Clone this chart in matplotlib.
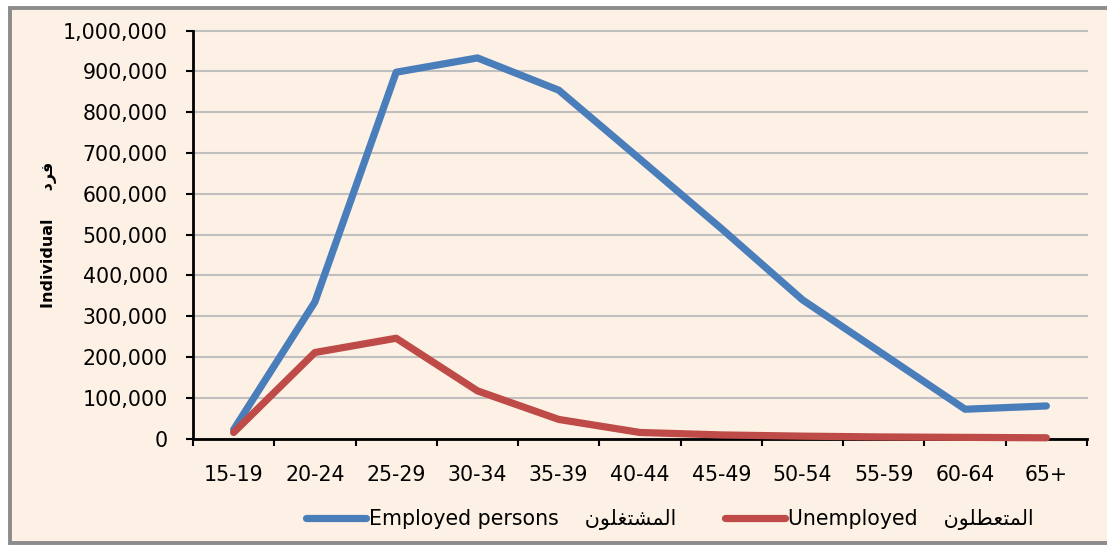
import matplotlib
matplotlib.use("Agg")
import matplotlib.pyplot as plt
from matplotlib.patches import Rectangle
from matplotlib.lines import Line2D
from matplotlib.ticker import FuncFormatter, FixedLocator

plt.rcParams['font.family'] = ['DejaVu Sans']

# age groups and counts
age_groups = ["15-19", "20-24", "25-29", "30-34", "35-39", "40-44",
              "45-49", "50-54", "55-59", "60-64", "65+"]
employed = [22000, 335000, 898000, 933000, 854000, 685000,
            515000, 340000, 206000, 72000, 80000]
unemployed = [15000, 211000, 246000, 117000, 47000, 15000,
              9000, 6000, 4000, 3000, 2000]

# arabic labels, written as presentation forms in visual order
ar_employed = "\uFEE5\uFEEE\uFEE0\uFED0\uFE98\uFEB8\uFEE4\uFEDF\uFE8D"    # المشتغلون
ar_unemployed = "\uFEE5\uFEEE\uFEE0\uFEC4\uFECC\uFE98\uFEE4\uFEDF\uFE8D"  # المتعطلون
ar_individual = "\uFEA9\uFEAE\uFED3"                                      # فرد

bg = "#FDF1E5"
blue = "#4A7EBB"
red = "#BE4B48"
frame = "#8C8C8C"

fig = plt.figure(figsize=(11.07, 5.45), dpi=100, facecolor="white")
# chart area background, open on the right side
x0, y0, y1 = 9.5 / 1107, 1 - 542.5 / 545, 1 - 7.5 / 545
fig.patches.append(Rectangle((x0, y0), 1.0, y1 - y0, transform=fig.transFigure,
                             facecolor=bg, edgecolor="none", zorder=-2))
fig.lines.append(Line2D([1.0, x0, x0, 1.0], [y1, y1, y0, y0],
                        transform=fig.transFigure, color=frame, lw=2.8,
                        solid_joinstyle="miter", zorder=-1))

ax = fig.add_axes([193 / 1107, 1 - 438.6 / 545, 894 / 1107, 408 / 545])
ax.set_facecolor(bg)

x = list(range(len(age_groups)))
ax.plot(x, employed, color=blue, lw=5.2, solid_capstyle="round",
        solid_joinstyle="round", clip_on=False, zorder=3,
        label="Employed persons    " + ar_employed)
ax.plot(x, unemployed, color=red, lw=5.2, solid_capstyle="round",
        solid_joinstyle="round", clip_on=False, zorder=3,
        label="Unemployed    " + ar_unemployed)

ax.set_xlim(-0.5, len(age_groups) - 0.5)
ax.set_ylim(0, 1000000)
ax.set_yticks(range(0, 1000001, 100000))
ax.yaxis.set_major_formatter(FuncFormatter(lambda v, p: f"{int(v):,}"))
ax.grid(axis="y", color="#BFBFBF", lw=1.5)
ax.set_axisbelow(True)
for gl in ax.get_ygridlines():
    gl.set_clip_on(False)

# ticks at category boundaries, labels in the middle
ax.xaxis.set_major_locator(FixedLocator([i - 0.5 for i in range(len(age_groups) + 1)]))
ax.xaxis.set_major_formatter(FuncFormatter(lambda v, p: ""))
ax.set_xticks(x, minor=True)
ax.set_xticklabels(age_groups, minor=True)
ax.tick_params(axis="x", which="major", length=5, width=1.5, direction="out")
ax.tick_params(axis="x", which="minor", length=0, pad=19, labelsize=14.8)
ax.tick_params(axis="y", length=5, width=1.5, pad=13, labelsize=14.8)

for s in ["top", "right"]:
    ax.spines[s].set_visible(False)
for s in ["left", "bottom"]:
    ax.spines[s].set_linewidth(2)

ax.set_ylabel("Individual     " + ar_individual, fontsize=11.5,
              fontweight="bold")
ax.yaxis.set_label_coords(-0.152, 0.5)

fig.legend(loc="center", bbox_to_anchor=(670 / 1107, 1 - 520 / 545), ncol=2,
           frameon=False, fontsize=14.8, handlelength=2.9,
           handletextpad=0.15, columnspacing=2.4)

fig.savefig("out.png", dpi=100, facecolor="white")
